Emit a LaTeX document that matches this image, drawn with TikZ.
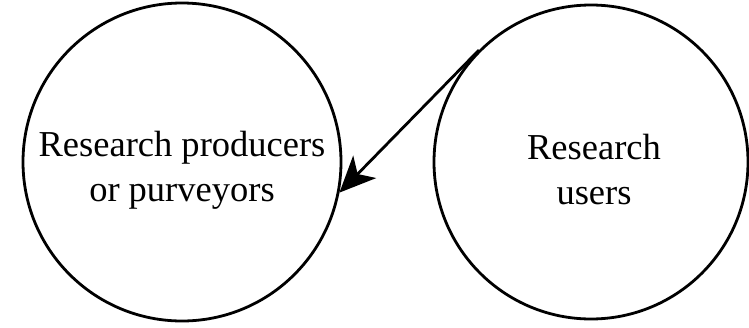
\documentclass[tikz,border=0pt]{standalone}
\usepackage{fontspec}
\setmainfont{Liberation Serif}
\usetikzlibrary{arrows.meta}
\begin{document}
\begin{tikzpicture}[x=1pt,y=-1pt,
  bubble/.style={circle,draw,line width=2.8pt,inner sep=0pt},
  lbl/.style={align=center,font=\fontsize{36.5}{45}\selectfont},
  flow/.style={line width=2.8pt,-{Stealth[length=36pt,width=32pt,inset=10pt]}}]
\useasboundingbox (0,0) rectangle (749,327);
\node[bubble,minimum size=318pt] (prod) at (182,162) {};
\node[bubble,minimum size=314pt] (users) at (591,162) {};
\node[lbl] (prodtext) at (182,170) {Research producers\\or purveyors};
\node[lbl] (usertext) at (594,170) {Research\\users};
\draw[flow] (users.135) -- (prod.-11);
\end{tikzpicture}
\end{document}
